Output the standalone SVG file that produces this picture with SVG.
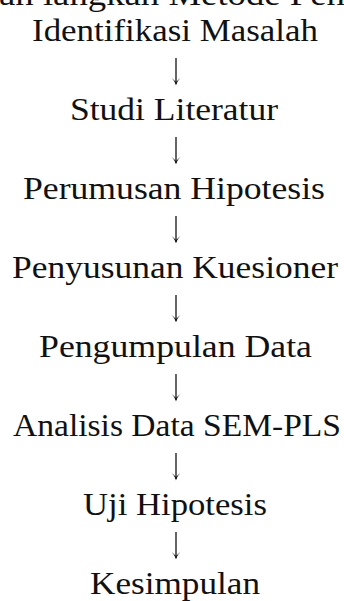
<svg xmlns="http://www.w3.org/2000/svg" width="344" height="601" viewBox="0 0 344 601">
<style>
text{font-family:"Liberation Serif","Times New Roman",serif;font-size:31px;fill:#111;text-anchor:middle}
.ar{stroke:#111;stroke-width:1.3;fill:none}
.hd{fill:#111;stroke:none}
</style>
<rect width="344" height="601" fill="#fff"/>
<g id="title"><text x="172" y="5" textLength="346" lengthAdjust="spacingAndGlyphs">an langkah Metode Pen</text></g>
<g id="n1"><text x="175" y="41" textLength="286" lengthAdjust="spacingAndGlyphs">Identifikasi Masalah</text></g>
<g id="n2"><text x="174" y="119.5" textLength="208" lengthAdjust="spacingAndGlyphs">Studi Literatur</text></g>
<g id="n3"><text x="174" y="198.5" textLength="302" lengthAdjust="spacingAndGlyphs">Perumusan Hipotesis</text></g>
<g id="n4"><text x="175" y="277.5" textLength="326" lengthAdjust="spacingAndGlyphs">Penyusunan Kuesioner</text></g>
<g id="n5"><text x="175.5" y="356.5" textLength="273" lengthAdjust="spacingAndGlyphs">Pengumpulan Data</text></g>
<g id="n6"><text x="177" y="435.5" textLength="328" lengthAdjust="spacingAndGlyphs">Analisis Data SEM-PLS</text></g>
<g id="n7"><text x="175" y="514.5" textLength="184" lengthAdjust="spacingAndGlyphs">Uji Hipotesis</text></g>
<g id="n8"><text x="175" y="593.5" textLength="170" lengthAdjust="spacingAndGlyphs">Kesimpulan</text></g>
<defs>
<g id="arrow">
<line class="ar" x1="0" y1="0" x2="0" y2="26"/>
<path class="hd" d="M-6.5,18.5 Q-2,21 0,27.5 Q2,21 6.5,18.5 Q2,21.5 0,24 Q-2,21.5 -6.5,18.5 Z"/>
</g>
</defs>
<g id="connectors">
<use href="#arrow" x="176" y="58"/>
<use href="#arrow" x="176" y="137"/>
<use href="#arrow" x="176" y="216"/>
<use href="#arrow" x="176" y="295"/>
<use href="#arrow" x="176" y="374"/>
<use href="#arrow" x="176" y="453"/>
<use href="#arrow" x="176" y="532"/>
</g>
</svg>
